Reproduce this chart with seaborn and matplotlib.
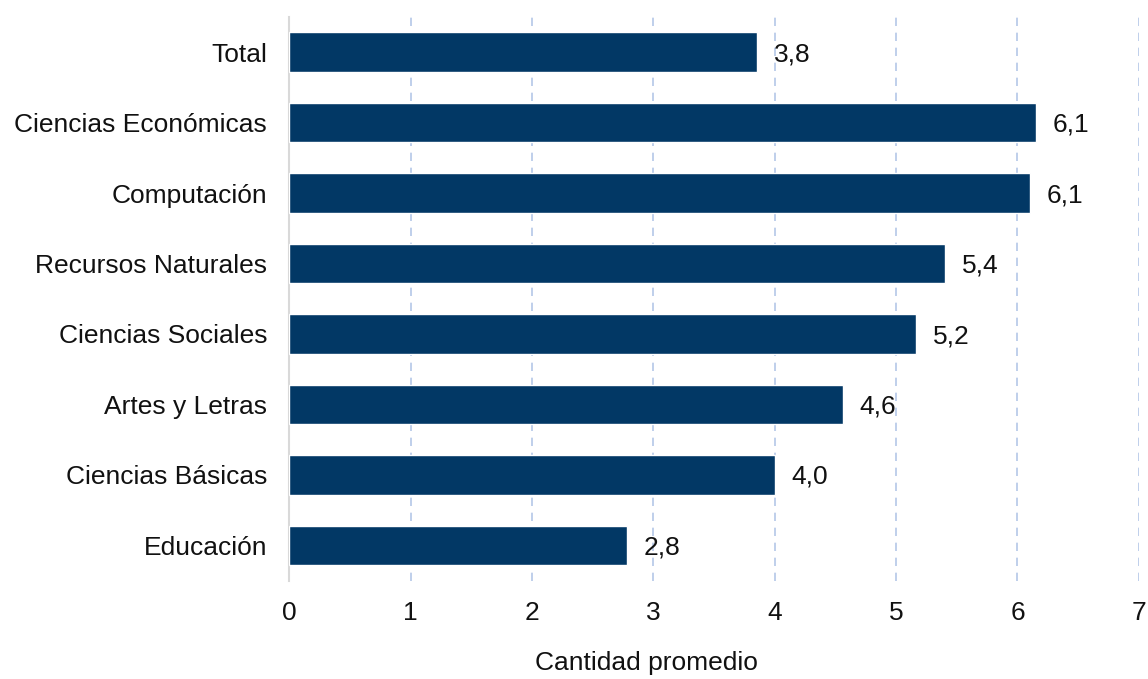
import matplotlib
matplotlib.use("Agg")
import matplotlib.pyplot as plt
import seaborn as sns
import pandas as pd

categorias = ["Total", "Ciencias Económicas", "Computación", "Recursos Naturales",
              "Ciencias Sociales", "Artes y Letras", "Ciencias Básicas", "Educación"]
valores = [3.85, 6.15, 6.10, 5.40, 5.16, 4.56, 4.00, 2.78]
etiquetas = ["3,8", "6,1", "6,1", "5,4", "5,2", "4,6", "4,0", "2,8"]

df = pd.DataFrame({"area": categorias, "cantidad": valores})

sns.set_style("white")
plt.rcParams["font.family"] = ["Liberation Sans", "DejaVu Sans"]

fig, ax = plt.subplots(figsize=(11.48, 6.79), dpi=100)
fig.subplots_adjust(left=0.252, right=0.992, top=0.975, bottom=0.145)

sns.barplot(data=df, x="cantidad", y="area", color="#023865", width=0.56,
            saturation=1, ax=ax, zorder=3)

fs = 19
for i, (v, t) in enumerate(zip(valores, etiquetas)):
    ax.text(v + 0.14, i + 0.03, t, va="center", ha="left", fontsize=fs, color="#111111")

ax.set_xlim(0, 7)
ax.set_ylim(7.5, -0.5)
ax.set_xticks(range(0, 8))
ax.xaxis.grid(True, color="#B4C7E7", linestyle=(0, (5, 4)), linewidth=1.2, zorder=0)
ax.set_axisbelow(True)
for s in ["top", "right", "bottom"]:
    ax.spines[s].set_visible(False)
ax.spines["left"].set_color("#D9D9D9")
ax.spines["left"].set_linewidth(1.5)
ax.tick_params(axis="both", length=0, labelsize=fs, colors="#111111")
ax.tick_params(axis="x", pad=15)
ax.tick_params(axis="y", pad=16)
ax.set_ylabel("")
ax.set_xlabel("Cantidad promedio", fontsize=fs, color="#111111")
ax.xaxis.set_label_coords(0.42, -0.125)

fig.savefig("out.png", dpi=100)
